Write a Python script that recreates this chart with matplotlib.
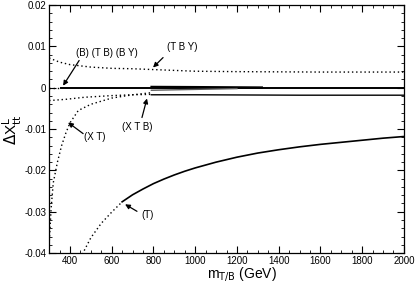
import matplotlib
matplotlib.use('Agg')
import matplotlib.pyplot as plt
from matplotlib.ticker import MultipleLocator, FuncFormatter

plt.rcParams['font.family'] = ['Liberation Sans', 'DejaVu Sans']
plt.rcParams['axes.unicode_minus'] = False

# (T B Y) doublet, dotted everywhere
tby_m = [300, 350, 400, 500, 600, 700, 800, 1000, 1200, 1600, 2000]
tby_v = [0.0072, 0.0062, 0.0056, 0.0050, 0.0047, 0.0046, 0.0044, 0.0040, 0.0039, 0.0038, 0.0038]

# (B), (T B), (B Y): close to zero
b_dot_m = [300, 355]
b_dot_v = [0.0, 0.0]
b_m = [355, 800, 1300, 2000]
b_v = [0.0, 0.0, 0.0, 0.0]
tb_m = [790, 1000, 1320]
tb_v = [0.00025, 0.0002, 0.0001]

# (X T)
xt_dot_m = [300, 310, 320, 340, 360, 380, 400, 440, 500, 600, 700, 790]
xt_dot_v = [-0.038, -0.029, -0.023, -0.018, -0.014, -0.011, -0.0085, -0.0055,
            -0.0040, -0.0025, -0.0017, -0.0012]
xt_m = [790, 1000, 1200]
xt_v = [-0.0006, -0.0004, -0.0002]

# (X T B)
xtb_dot_m = [300, 380, 470, 600, 700, 790]
xtb_dot_v = [-0.0031, -0.0028, -0.0023, -0.0019, -0.0017, -0.0016]
xtb_m = [790, 1000, 1500, 2000]
xtb_v = [-0.0017, -0.0017, -0.0018, -0.0018]

# (T) singlet
t_dot_m = [450, 500, 550, 600, 650]
t_dot_v = [-0.0412, -0.0363, -0.0328, -0.0301, -0.0276]
t_m = [650, 700, 750, 800, 850, 900, 950, 1000, 1100, 1200, 1300, 1400,
       1500, 1600, 1700, 1800, 1900, 2000]
t_v = [-0.0276, -0.0259, -0.0245, -0.0232, -0.0221, -0.0211, -0.0202, -0.0194,
       -0.0180, -0.0168, -0.0158, -0.0150, -0.0143, -0.0137, -0.0132, -0.0127,
       -0.0122, -0.0118]

fig = plt.figure(figsize=(4.16, 2.84), dpi=100)
ax = fig.add_axes([0.118, 0.109, 0.853, 0.873])

dot = (0, (1, 2))
ax.plot(tby_m, tby_v, color='black', lw=1.0, ls=dot)
ax.plot(b_dot_m, b_dot_v, color='black', lw=1.0, ls=dot)
ax.plot(b_m, b_v, color='black', lw=1.4)
ax.plot(tb_m, tb_v, color='black', lw=1.4)
ax.plot(xt_dot_m, xt_dot_v, color='black', lw=1.0, ls=dot)
ax.plot(xt_m, xt_v, color='0.35', lw=1.0)
ax.plot(xtb_dot_m, xtb_dot_v, color='black', lw=1.0, ls=dot)
ax.plot(xtb_m, xtb_v, color='black', lw=1.0)
ax.plot(t_dot_m, t_dot_v, color='black', lw=1.0, ls=dot)
ax.plot(t_m, t_v, color='black', lw=1.2)

ax.set_xlim(300, 2000)
ax.set_ylim(-0.04, 0.02)

ax.xaxis.set_major_locator(MultipleLocator(200))
ax.xaxis.set_minor_locator(MultipleLocator(50))
ax.yaxis.set_major_locator(MultipleLocator(0.01))
ax.yaxis.set_minor_locator(MultipleLocator(0.002))
ax.yaxis.set_major_formatter(FuncFormatter(lambda v, p: '0' if abs(v) < 1e-9 else f'{v:.2f}'))
ax.tick_params(which='both', direction='in', top=True, right=True, labelsize=7, pad=2)
ax.tick_params(which='major', length=5, width=0.8)
ax.tick_params(which='minor', length=2.5, width=0.6)
for s in ax.spines.values():
    s.set_linewidth(0.9)

ax.set_xlabel(r'm$_{\mathrm{T/B}}$ (GeV)', fontsize=10, labelpad=0)
ax.xaxis.set_label_coords(0.544, -0.05)
ax.set_ylabel(r'$\Delta$X$^{\mathrm{L}}_{\mathrm{tt}}$', fontsize=11, labelpad=0)

arr = dict(arrowstyle='-|>', color='black', lw=0.9, mutation_scale=7, shrinkA=0, shrinkB=0)
labels = [
    ('(B) (T B) (B Y)', (578, 0.0083), (444, 0.0066), (367, 0.0005)),
    ('(T B Y)', (937, 0.0098), (846, 0.0073), (798, 0.0049)),
    ('(X T)', (520, -0.0120), (463, -0.0111), (391, -0.0084)),
    ('(X T B)', (721, -0.0096), (745, -0.0072), (769, -0.0026)),
    ('(T)', (774, -0.0309), (721, -0.0299), (664, -0.0282)),
]
for txt, tpos, tail, head in labels:
    ax.text(tpos[0], tpos[1], txt, fontsize=7, ha='center', va='center')
    ax.annotate('', xy=head, xytext=tail, arrowprops=arr)

fig.savefig('out.png', dpi=100)
